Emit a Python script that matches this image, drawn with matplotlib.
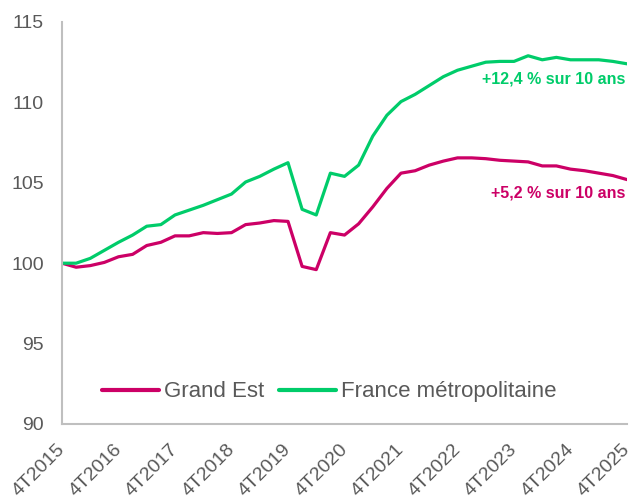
import matplotlib
matplotlib.use("Agg")
import matplotlib.pyplot as plt
from matplotlib.transforms import ScaledTranslation

plt.rcParams['font.family'] = ['Liberation Sans', 'DejaVu Sans']

quarters = [f"{q}T{y}" for y in range(2015, 2026) for q in (1, 2, 3, 4)][3:44]
tick_labels = [f"4T{y}" for y in range(2015, 2026)]

grand_est = [100.0, 99.75, 99.85, 100.05, 100.4, 100.55, 101.1, 101.3, 101.7, 101.7,
             101.9, 101.85, 101.9, 102.4, 102.5, 102.65, 102.6, 99.8, 99.6, 101.9,
             101.75, 102.45, 103.5, 104.65, 105.6, 105.75, 106.1, 106.35, 106.55, 106.55,
             106.5, 106.4, 106.35, 106.3, 106.05, 106.05, 105.85, 105.75, 105.6, 105.45,
             105.2]
france = [100.0, 100.0, 100.3, 100.8, 101.3, 101.75, 102.3, 102.4, 103.0, 103.3,
          103.6, 103.95, 104.3, 105.05, 105.4, 105.85, 106.25, 103.35, 103.0, 105.6,
          105.4, 106.1, 107.9, 109.2, 110.05, 110.5, 111.05, 111.6, 112.0, 112.25,
          112.5, 112.55, 112.55, 112.9, 112.65, 112.8, 112.65, 112.65, 112.65, 112.55,
          112.4]
labels = ["Grand Est", "France métropolitaine"]
annotations = ["+5,2 % sur 10 ans", "+12,4 % sur 10 ans"]

red = '#CC0066'
green = '#00CC6A'
gray_text = '#595959'
axis_gray = '#BFBFBF'

fig = plt.figure(figsize=(6.3, 5.0), dpi=100)
ax = fig.add_axes([62/630, 1-424/500, 565/630, 402/500])

x = list(range(len(quarters)))
ax.plot(x, grand_est, color=red, lw=2.3, label=labels[0], solid_capstyle='round')
ax.plot(x, france, color=green, lw=2.3, label=labels[1], solid_capstyle='round')

ax.set_xlim(0, len(quarters) - 1)
ax.set_ylim(90, 115)
ax.set_yticks([90, 95, 100, 105, 110, 115])
ax.set_xticks([quarters.index(t) for t in tick_labels])
ax.set_xticklabels(tick_labels, rotation=45, ha='right', va='top', rotation_mode='anchor')

for s in ['top', 'right']:
    ax.spines[s].set_visible(False)
for s in ['left', 'bottom']:
    ax.spines[s].set_color(axis_gray)
    ax.spines[s].set_linewidth(1.5)
ax.tick_params(axis='both', length=0, colors=gray_text)
ax.tick_params(axis='y', labelsize=14, pad=13)
ax.tick_params(axis='x', labelsize=14, pad=12)
off = ScaledTranslation(-4/72, 0, fig.dpi_scale_trans)
for lab in ax.get_xticklabels():
    lab.set_transform(lab.get_transform() + off)

ax.text(len(quarters) - 1.1, france[-1] - 0.95, annotations[1], color=green,
        fontsize=11.5, fontweight='bold', ha='right', va='center')
ax.text(len(quarters) - 1.1, grand_est[-1] - 0.83, annotations[0], color=red,
        fontsize=11.5, fontweight='bold', ha='right', va='center')

leg = ax.legend(loc='center', bbox_to_anchor=(0.473, 0.08), ncol=2, frameon=False,
                fontsize=16, handlelength=2.57, handletextpad=0.22, columnspacing=0.68,
                labelcolor=gray_text, borderpad=0)
for h in leg.get_lines():
    h.set_linewidth(3)

fig.savefig('out.png', dpi=100)
